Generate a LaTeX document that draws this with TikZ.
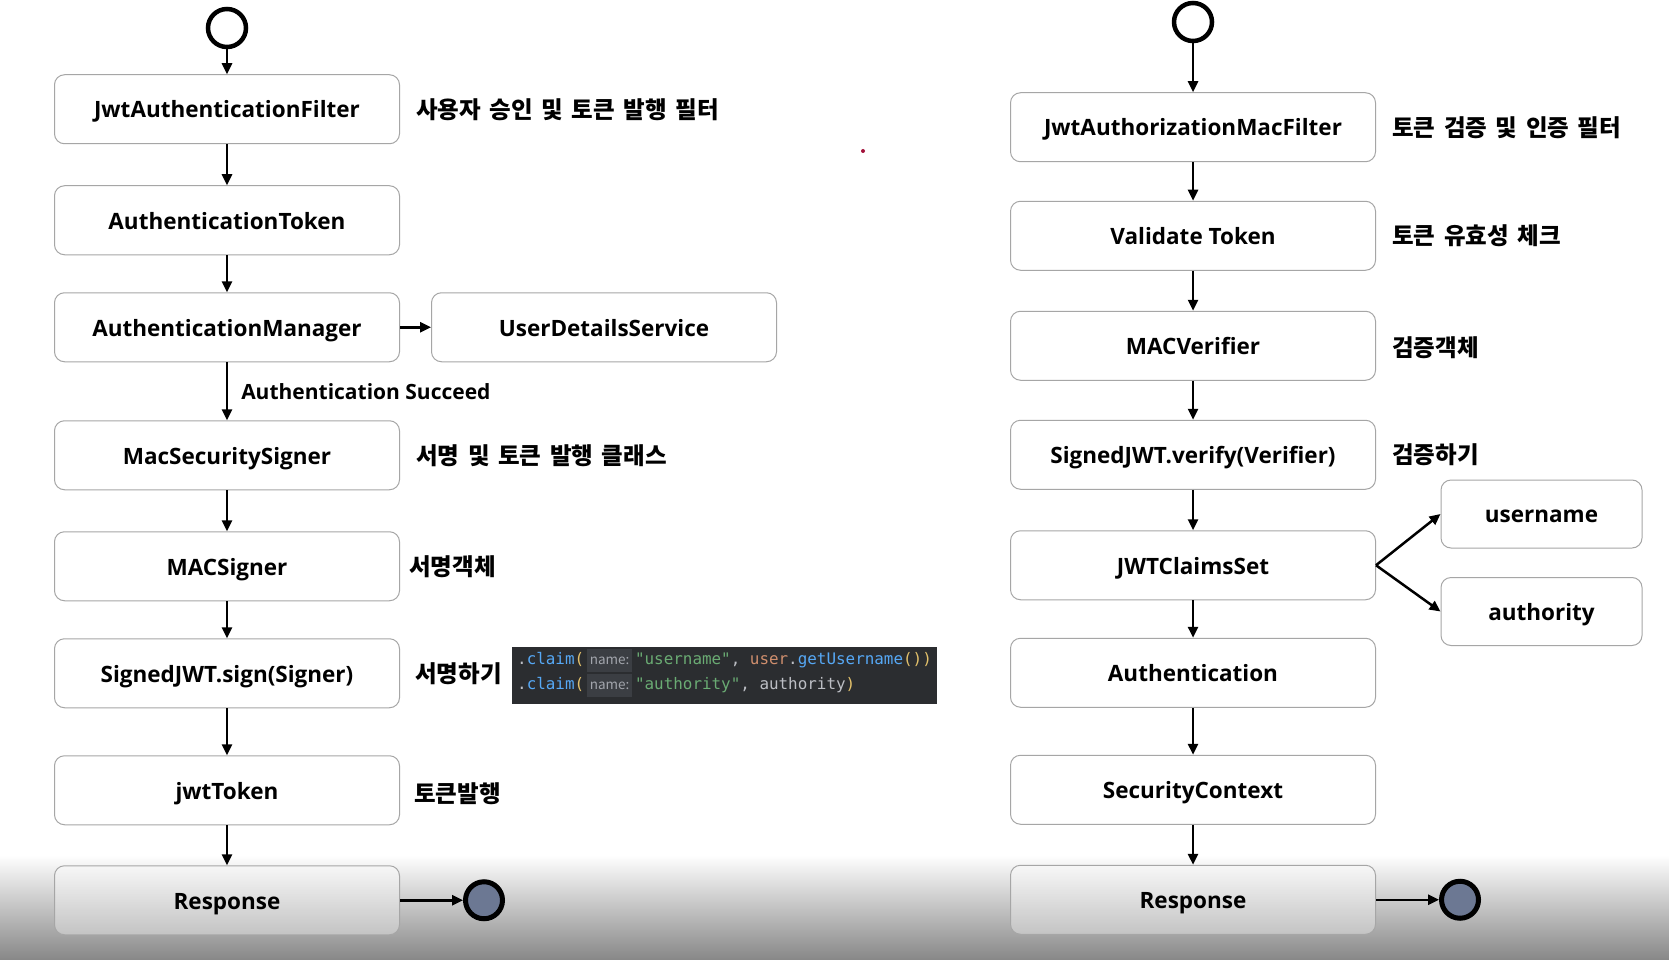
\documentclass[tikz,border=0pt]{standalone}
\usepackage{fontspec}
\setmainfont{Open Sans}
\setmonofont{DejaVu Sans Mono}
\newfontfamily\kr{Noto Sans CJK KR}[WordSpace=1.6]
\usepackage{tikz}
\usetikzlibrary{arrows.meta,positioning}
\definecolor{edge}{HTML}{A6A6A6}
\definecolor{endfill}{HTML}{6C7893}
\definecolor{codebg}{HTML}{2B2D30}
\definecolor{codefg}{HTML}{BCBEC4}
\definecolor{cblue}{HTML}{56A8F5}
\definecolor{cyel}{HTML}{E3C16B}
\definecolor{cgreen}{HTML}{6AAB73}
\definecolor{corange}{HTML}{CF8E6D}
\definecolor{hintbg}{HTML}{3B3E43}
\definecolor{hintfg}{HTML}{A2A5AC}
\definecolor{dotred}{HTML}{A3123A}
\newcommand\hintbox[1]{{\setlength{\fboxsep}{3pt}\colorbox{hintbg}{\rule[-4.5pt]{0pt}{17pt}\kr\fontsize{13.5}{15}\selectfont\color{hintfg}#1}}}
\tikzset{
  >={Triangle[length=11pt,width=10pt]},
  box/.style={draw=edge,line width=1pt,rounded corners=10pt,fill=white,fill opacity=.35,text opacity=1,
    minimum height=69pt,inner sep=2pt,text height=17.5pt,text depth=0pt,font=\fontsize{22.5}{26}\selectfont\bfseries},
  lbox/.style={box,minimum width=345pt},
  rbox/.style={box,minimum width=365pt},
  sbox/.style={box,minimum width=201pt,minimum height=68pt},
  lab/.style={font=\kr\fontsize{23.5}{28}\selectfont\bfseries,inner sep=0pt,anchor=west},
  arr/.style={->,line width=2.5pt},
  startdot/.style={circle,draw,line width=4.5pt,fill=white,minimum size=38pt,inner sep=0pt},
  enddot/.style={circle,draw,line width=5pt,fill=endfill,minimum size=37pt,inner sep=0pt},
  codeln/.style={font=\ttfamily\fontsize{15.9}{18}\selectfont,inner sep=0pt,anchor=west,text=codefg},
}
\begin{document}
\begin{tikzpicture}[x=1pt,y=-1pt]
\useasboundingbox (0,0) rectangle (1669,960);
\fill[white] (0,0) rectangle (1669,856);
\shade[top color=white,bottom color=black!47] (0,855) rectangle (1669,960);
\fill[dotred] (863,151) circle (2pt);
% signing side
\node[startdot] (ls) at (227,28) {};
\node[lbox,below=25pt of ls] (jaf) {JwtAuthenticationFilter};
\node[lbox,below=41pt of jaf] (atok) {AuthenticationToken};
\node[lbox,below=37pt of atok] (amgr) {AuthenticationManager};
\node[lbox,right=31pt of amgr] (uds) {UserDetailsService};
\node[lbox,below=58pt of amgr] (mss) {MacSecuritySigner};
\node[lbox,below=41pt of mss] (msg) {MACSigner};
\node[lbox,below=37pt of msg] (sign) {SignedJWT.sign(Signer)};
\node[lbox,below=47pt of sign] (jwt) {jwtToken};
\node[lbox,below=40pt of jwt] (lresp) {Response};
\node[enddot,right=63pt of lresp] (le) {};
\node[lab,right=16pt of jaf] (jafl) {사용자 승인 및 토큰 발행 필터};
\node[lab,right=16pt of mss] (mssl) {서명 및 토큰 발행 클래스};
\node[lab,right=9pt of msg] (msgl) {서명객체};
\node[lab,right=15pt of sign] (signl) {서명하기};
\node[lab,right=14pt of jwt,yshift=-3pt] (jwtl) {토큰발행};
% claim code
\node[fill=codebg,minimum width=425pt,minimum height=57pt,inner sep=0pt] (code) at (724.5,675.5) {};
\node[codeln] (cl1) at (517,660) {.\textcolor{cblue}{claim}\textcolor{cyel}{(}\,\hintbox{name:}\,\textcolor{cgreen}{"username"}, \textcolor{corange}{user}.\textcolor{cblue}{getUsername}\textcolor{cyel}{())}};
\node[codeln] (cl2) at (517,685) {.\textcolor{cblue}{claim}\textcolor{cyel}{(}\,\hintbox{name:}\,\textcolor{cgreen}{"authority"}, authority\textcolor{cyel}{)}};
\foreach \u/\v in {ls/jaf,jaf/atok,atok/amgr,amgr/uds,mss/msg,msg/sign,sign/jwt,jwt/lresp,lresp/le} \draw[arr] (\u)--(\v);
\draw[arr] (amgr)--node[right=13pt,inner sep=0pt,font=\fontsize{21}{25}\selectfont\bfseries]{Authentication Succeed}(mss);
% verifying side
\node[startdot] (rs) at (1193,22) {};
\node[rbox,below=49pt of rs] (jmf) {JwtAuthorizationMacFilter};
\node[rbox,below=38.5pt of jmf] (vt) {Validate Token};
\node[rbox,below=40pt of vt] (macv) {MACVerifier};
\node[rbox,below=39pt of macv] (verify) {SignedJWT.verify(Verifier)};
\node[rbox,below=40.5pt of verify] (claims) {JWTClaimsSet};
\node[rbox,below=37.5pt of claims] (auth) {Authentication};
\node[rbox,below=47pt of auth] (ctx) {SecurityContext};
\node[rbox,below=40pt of ctx] (rresp) {Response};
\node[enddot,right=63pt of rresp] (re) {};
\node[sbox] (uname) at (1541.5,514) {username};
\node[sbox] (auty) at (1541.5,611.5) {authority};
\node[lab,right=16pt of jmf] (jmfl) {토큰 검증 및 인증 필터};
\node[lab,right=16pt of vt] (vtl) {토큰 유효성 체크};
\node[lab,right=16pt of macv,yshift=-2pt] (macvl) {검증객체};
\node[lab,right=16pt of verify] (verifyl) {검증하기};
\foreach \u/\v in {rs/jmf,jmf/vt,vt/macv,macv/verify,verify/claims,claims/auth,auth/ctx,ctx/rresp,rresp/re} \draw[arr] (\u)--(\v);
\draw[arr] (claims.east)--(uname.west);
\draw[arr] (claims.east)--(auty.west);
\end{tikzpicture}
\end{document}
